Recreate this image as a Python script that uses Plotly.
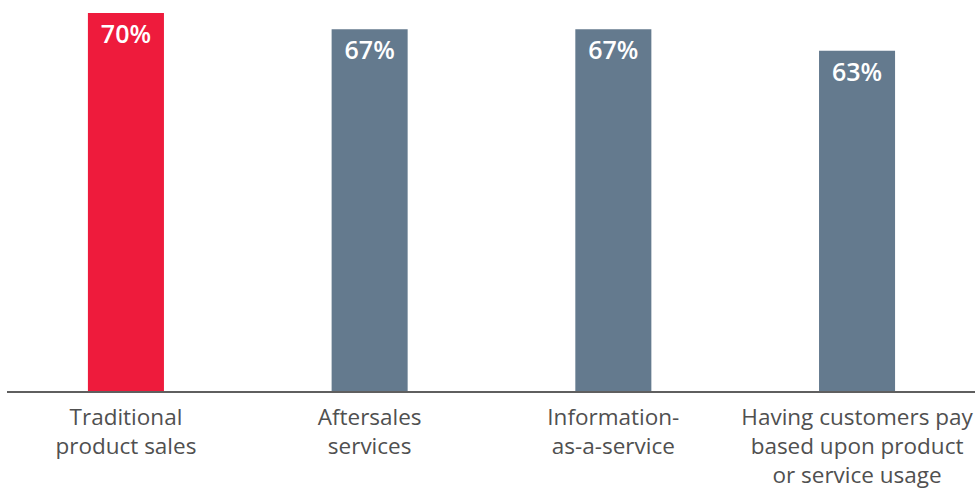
import plotly.graph_objects as go

categories = [
    "Traditional<br>product sales",
    "Aftersales<br>services",
    "Information-<br>as-a-service",
    "Having customers pay<br>based upon product<br>or service usage",
]
values = [70, 67, 67, 63]
labels = [f"{v}%" for v in values]
bar_colors = ["#EE1B3C", "#647A8E", "#647A8E", "#647A8E"]

fig = go.Figure(
    go.Bar(
        x=categories,
        y=values,
        text=labels,
        textposition="inside",
        insidetextanchor="end",
        textangle=0,
        textfont=dict(family="Open Sans", size=25, color="white", weight=600),
        marker=dict(color=bar_colors, line=dict(width=0)),
        width=0.312,
        cliponaxis=False,
    )
)

fig.update_layout(
    width=975,
    height=496,
    margin=dict(l=7, r=0, t=0, b=105),
    paper_bgcolor="white",
    plot_bgcolor="white",
    showlegend=False,
    uniformtext=dict(mode=False),
    xaxis=dict(
        range=[-0.488, 3.484],
        showgrid=False,
        zeroline=False,
        showline=True,
        linecolor="#5F5F5F",
        linewidth=1.5,
        ticks="",
        ticklabelstandoff=5,
        tickfont=dict(family="Open Sans", size=22.5, color="#505050"),
    ),
    yaxis=dict(
        range=[0, 72.4],
        visible=False,
        showgrid=False,
        zeroline=False,
    ),
)

fig.write_html("out.html")
